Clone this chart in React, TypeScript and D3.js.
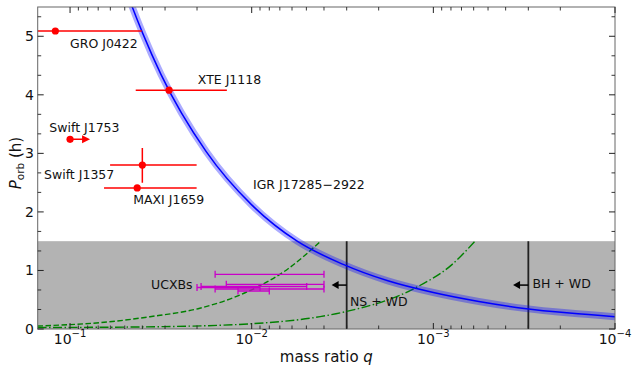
import React from 'react';
import * as d3 from 'd3';

const W = 633, H = 368;
const X0 = 37.7, X1 = 615, Y0 = 329, Y1 = 7;

// Blue Roche-lobe relation curve (q, P in hours)
const blueQ = [0.0501, 0.0457, 0.0398, 0.0316, 0.0178, 0.0100, 0.00562, 0.00316, 0.00178, 0.00100, 0.000562, 0.000316, 0.000178, 0.0001];
const blueP = [5.86, 5.52, 5.05, 4.35, 3.03, 2.12, 1.50, 1.108, 0.823, 0.623, 0.470, 0.352, 0.272, 0.211];

// Green dashed curve
const dashedQ = [0.151, 0.1, 0.0684, 0.0363, 0.0193, 0.01, 0.0063, 0.00417];
const dashedP = [0.05, 0.075, 0.108, 0.21, 0.355, 0.67, 1.03, 1.5];

// Green dash-dot curve
const dashdotQ = [0.151, 0.1, 0.0316, 0.01, 0.0042, 0.003, 0.00126, 0.00079, 0.00059];
const dashdotP = [0.025, 0.027, 0.04, 0.09, 0.211, 0.30, 0.70, 1.1, 1.5];

// Black-hole sources (red)
const srcNames = ['GRO J0422', 'XTE J1118', 'Swift J1753', 'Swift J1357', 'MAXI J1659'];
const srcQ = [0.1205, 0.0285, 0.1, 0.04, 0.0427];
const srcP = [5.09, 4.08, 3.24, 2.8, 2.41];
const srcQHi = [0.2, 0.0435, NaN, 0.0602, 0.065];
const srcQLo = [0.0403, 0.0137, NaN, 0.0201, 0.0201];
const srcPLo = [NaN, NaN, NaN, 2.5, NaN];
const srcPHi = [NaN, NaN, NaN, 3.09, NaN];
const swiftJ1753ArrowQ = 0.0776;

// Source label anchors (q, P)
const labelText = ['GRO J0422', 'XTE J1118', 'Swift J1753', 'Swift J1357', 'MAXI J1659', 'IGR J17285\u22122922', 'UCXBs', 'NS + WD', 'BH + WD'];
const labelQ = [0.1, 0.0198, 0.130, 0.139, 0.0449, 0.00984, 0.0358, 0.00288, 0.000285];
const labelP = [4.88, 4.27, 3.45, 2.64, 2.22, 2.46, 0.763, 0.466, 0.77];

// UCXBs (magenta) q ranges
const ucxbP = [0.934, 0.763, 0.726, 0.709, 0.683, 0.649];
const ucxbQHi = [0.0159, 0.0138, 0.0190, 0.0200, 0.0159, 0.0119];
const ucxbQLo = [0.0040, 0.0040, 0.00498, 0.0090, 0.0040, 0.0080];

// Limits
const bandP = 1.5;
const nsLimitQ = 0.003;
const bhLimitQ = 0.0003;
const limitArrowP = 0.75;
const nsArrowTipQ = 0.00363;
const bhArrowTipQ = 0.000364;

const yMajor = [0, 1, 2, 3, 4, 5];
const xMajor = [0.1, 0.01, 0.001, 0.0001];
const xMajorExp = ['\u22121', '\u22122', '\u22123', '\u22124'];

const FONT = 'DejaVu Sans, sans-serif';

export default function App() {
  const x = d3.scaleLog().domain([0.1507, 1e-4]).range([X0, X1]);
  const y = d3.scaleLinear().domain([0, 5.5]).range([Y0, Y1]);

  const line = d3.line<[number, number]>().x(d => x(d[0])).y(d => y(d[1])).curve(d3.curveMonotoneX);
  const bluePath = line(blueQ.map((q, i) => [q, blueP[i]]))!;
  const dashedPath = line(dashedQ.map((q, i) => [q, dashedP[i]]))!;
  const dashdotPath = line(dashdotQ.map((q, i) => [q, dashdotP[i]]))!;

  // minor ticks
  const xMinor: number[] = [];
  for (let e = -4; e <= -1; e++) {
    for (let k = 2; k <= 9; k++) {
      const v = k * Math.pow(10, e);
      if (v <= 0.1507 && v >= 1e-4) xMinor.push(v);
    }
  }
  const yMinor: number[] = [];
  for (let k = 1; k <= 16; k++) if (k % 3 !== 0) yMinor.push(k / 3);

  const tickColor = '#222';
  const red = '#ff0000';
  const mag = '#c800c8';
  const green = '#008000';

  const yA = y(limitArrowP);

  return (
    <svg width={W} height={H} style={{ position: 'absolute', left: 0, top: 0, background: '#fff' }} fontFamily={FONT}>
      <defs>
        <clipPath id="plotclip">
          <rect x={X0} y={Y1} width={X1 - X0} height={Y0 - Y1} />
        </clipPath>
      </defs>
      {/* grey band */}
      <rect x={X0} y={y(bandP)} width={X1 - X0} height={Y0 - y(bandP)} fill="#b3b3b3" />
      <g clipPath="url(#plotclip)">
        {/* vertical limit lines */}
        <line x1={x(nsLimitQ)} x2={x(nsLimitQ)} y1={y(0)} y2={y(bandP)} stroke="#222" strokeWidth={1.8} />
        <line x1={x(bhLimitQ)} x2={x(bhLimitQ)} y1={y(0)} y2={y(bandP)} stroke="#222" strokeWidth={1.8} />
        {/* green curves */}
        <path d={dashedPath} fill="none" stroke={green} strokeWidth={1.4} strokeDasharray="5.5,2.5" />
        <path d={dashdotPath} fill="none" stroke={green} strokeWidth={1.4} strokeDasharray="9,2.5,1.5,2.5" />
        {/* blue curve with band */}
        <path d={bluePath} fill="none" stroke="#0000ff" strokeOpacity={0.33} strokeWidth={7} />
        <path d={bluePath} fill="none" stroke="#0000ff" strokeWidth={1.5} />
        {/* UCXBs */}
        {ucxbP.map((p, i) => (
          <g key={'u' + i} stroke={mag} strokeWidth={1.3}>
            <line x1={x(ucxbQHi[i])} x2={x(ucxbQLo[i])} y1={y(p)} y2={y(p)} />
            <line x1={x(ucxbQHi[i])} x2={x(ucxbQHi[i])} y1={y(p) - 3.5} y2={y(p) + 3.5} />
            <line x1={x(ucxbQLo[i])} x2={x(ucxbQLo[i])} y1={y(p) - 3.5} y2={y(p) + 3.5} />
          </g>
        ))}
        {/* red sources */}
        {srcQ.map((q, i) => (
          <g key={'s' + i}>
            {!isNaN(srcQHi[i]) && (
              <line x1={x(srcQHi[i])} x2={x(srcQLo[i])} y1={y(srcP[i])} y2={y(srcP[i])} stroke={red} strokeWidth={1.5} />
            )}
            {!isNaN(srcPLo[i]) && (
              <line x1={x(q)} x2={x(q)} y1={y(srcPLo[i])} y2={y(srcPHi[i])} stroke={red} strokeWidth={1.5} />
            )}
            <circle cx={x(q)} cy={y(srcP[i])} r={3.6} fill={red} />
          </g>
        ))}
        {/* Swift J1753 upper-limit arrow */}
        <line x1={x(srcQ[2])} x2={x(swiftJ1753ArrowQ) - 6} y1={y(srcP[2])} y2={y(srcP[2])} stroke={red} strokeWidth={1.5} />
        <path d={`M${x(swiftJ1753ArrowQ)},${y(srcP[2])} l-8,-4 l0,8 z`} fill={red} />
        {/* limit arrows */}
        <line x1={x(nsLimitQ)} x2={x(nsArrowTipQ) + 6} y1={yA} y2={yA} stroke="#000" strokeWidth={1.5} />
        <path d={`M${x(nsArrowTipQ)},${yA} l7,-4 l0,8 z`} fill="#000" />
        <line x1={x(bhLimitQ)} x2={x(bhArrowTipQ) + 6} y1={yA} y2={yA} stroke="#000" strokeWidth={1.5} />
        <path d={`M${x(bhArrowTipQ)},${yA} l7,-4 l0,8 z`} fill="#000" />
      </g>
      {/* labels */}
      {labelText.map((t, i) => (
        <text key={'l' + i} x={x(labelQ[i])} y={y(labelP[i])} dy="0.36em" fontSize={12.5} fill="#111">{t}</text>
      ))}
      {/* frame */}
      <rect x={X0} y={Y1} width={X1 - X0} height={Y0 - Y1} fill="none" stroke="#666" strokeWidth={1} />
      {/* x ticks */}
      {xMajor.map((v, i) => (
        <g key={'xm' + i}>
          <line x1={x(v)} x2={x(v)} y1={Y0} y2={Y0 - 6} stroke={tickColor} strokeWidth={1} />
          <line x1={x(v)} x2={x(v)} y1={Y1} y2={Y1 + 6} stroke={tickColor} strokeWidth={1} />
          <text x={x(v)} y={343.5} fontSize={14} textAnchor="middle" fill="#111">
            <tspan>10</tspan>
            <tspan fontSize={10} dy={-7}>{xMajorExp[i]}</tspan>
          </text>
        </g>
      ))}
      {xMinor.map((v, i) => (
        <g key={'xn' + i}>
          <line x1={x(v)} x2={x(v)} y1={Y0} y2={Y0 - 3.5} stroke={tickColor} strokeWidth={0.9} />
          <line x1={x(v)} x2={x(v)} y1={Y1} y2={Y1 + 3.5} stroke={tickColor} strokeWidth={0.9} />
        </g>
      ))}
      {/* y ticks */}
      {yMajor.map((v, i) => (
        <g key={'ym' + i}>
          <line x1={X0} x2={X0 + 6} y1={y(v)} y2={y(v)} stroke={tickColor} strokeWidth={1} />
          <line x1={X1} x2={X1 - 6} y1={y(v)} y2={y(v)} stroke={tickColor} strokeWidth={1} />
          <text x={34} y={y(v)} dy="0.36em" fontSize={14} textAnchor="end" fill="#111">{v}</text>
        </g>
      ))}
      {yMinor.map((v, i) => (
        <g key={'yn' + i}>
          <line x1={X0} x2={X0 + 3.5} y1={y(v)} y2={y(v)} stroke={tickColor} strokeWidth={0.9} />
          <line x1={X1} x2={X1 - 3.5} y1={y(v)} y2={y(v)} stroke={tickColor} strokeWidth={0.9} />
        </g>
      ))}
      {/* axis labels */}
      <text x={(X0 + X1) / 2} y={361.5} fontSize={15} textAnchor="middle" fill="#111">
        mass ratio <tspan fontStyle="italic">q</tspan>
      </text>
      <text transform={`translate(20.5,${(Y0 + Y1) / 2 - 5}) rotate(-90)`} fontSize={15} textAnchor="middle" fill="#111">
        <tspan fontStyle="italic">P</tspan>
        <tspan fontSize={10.5} dy={3}>orb</tspan>
        <tspan dy={-3}> (h)</tspan>
      </text>
    </svg>
  );
}
